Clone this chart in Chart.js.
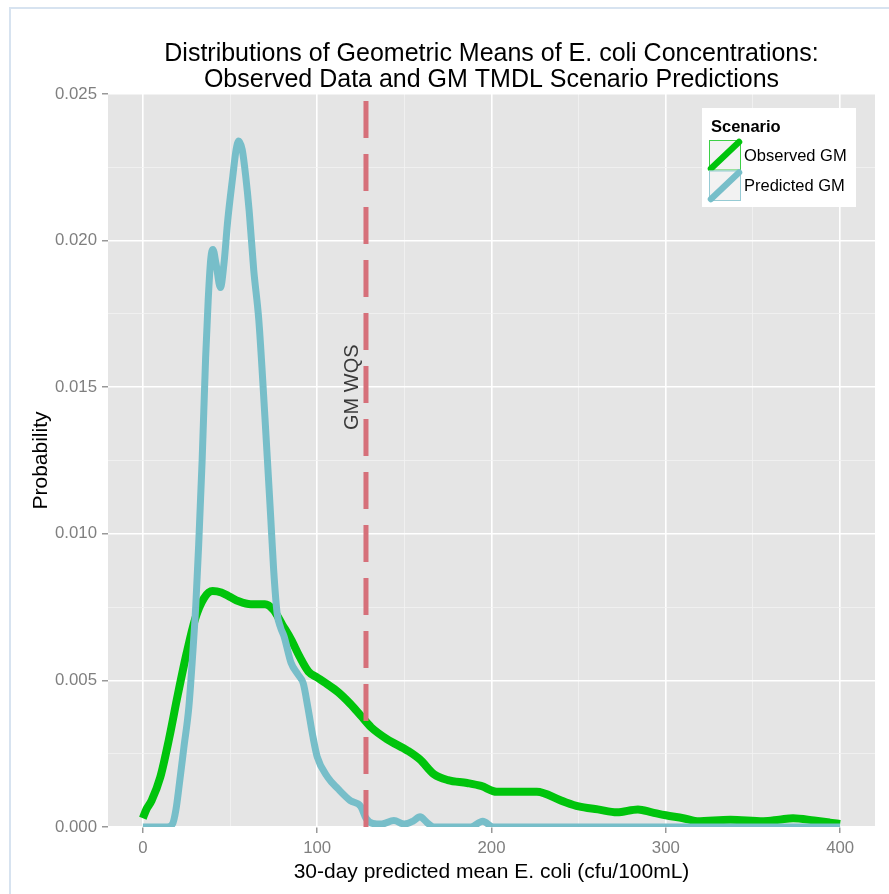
<!DOCTYPE html>
<html>
<head>
<meta charset="utf-8">
<title>Distributions of Geometric Means of E. coli Concentrations</title>
<script src="https://cdn.jsdelivr.net/npm/chart.js@4.4.1/dist/chart.umd.min.js"></script>
<style>
  html, body { margin: 0; padding: 0; background: #ffffff; }
  canvas { display: block; }
</style>
</head>
<body>
<canvas id="chart" width="889" height="894"></canvas>
<script>
// Density of observed 30-day geometric means (cfu/100mL -> probability)
const observedX = [0, 2, 5, 10, 15, 20, 25, 30, 35, 40, 45, 50, 55, 62, 70, 75, 80, 85, 90, 95,
  100, 105, 112, 119, 125, 131, 140, 152, 159, 167, 175, 186, 194, 203, 213, 226, 240, 250, 261, 272,
  284, 292, 300, 310, 318, 337, 356, 365, 373, 385, 394, 400];
const observedY = [0.0003, 0.0006, 0.0009, 0.0017, 0.0030, 0.0045, 0.0059, 0.0071, 0.0078, 0.00805,
  0.0080, 0.00785, 0.0077, 0.0076, 0.0076, 0.0074, 0.0069, 0.0064, 0.0058, 0.0053,
  0.0051, 0.0049, 0.0046, 0.0042, 0.0038, 0.0034, 0.0030, 0.0026, 0.0023, 0.0018,
  0.0016, 0.0015, 0.0014, 0.0012, 0.0012, 0.0012, 0.0009, 0.0007, 0.0006, 0.0005,
  0.0006, 0.0005, 0.0004, 0.0003, 0.0002, 0.00025, 0.0002, 0.00025, 0.0003, 0.00022, 0.00015, 0.0001];

// Density of GM TMDL scenario predictions
const predictedX = [0, 14, 17, 19, 21, 23.5, 26.4, 28.6, 30.4, 32, 34, 36, 37.5, 39, 40.2, 42, 44.5, 46.5,
  48.7, 51.6, 53.5, 55, 57, 59, 61, 63.6, 66.5, 70, 73.4, 75, 77, 79, 81, 85, 89, 92, 94.6, 97.5,
  100, 106, 112, 119, 125, 128, 132, 137, 144, 150, 155, 159, 163, 167, 188, 195, 201, 400];
const predictedY = [0, 0, 0.0001, 0.0006, 0.0015, 0.0027, 0.0041, 0.0059, 0.0076, 0.0096, 0.0125, 0.0160,
  0.0180, 0.0194, 0.0197, 0.0192, 0.0184, 0.0192, 0.0207, 0.0222, 0.0231, 0.0234, 0.0231, 0.0222,
  0.0210, 0.0190, 0.0173, 0.0140, 0.0105, 0.0088, 0.0073, 0.0068, 0.0065, 0.0056, 0.0052, 0.0049,
  0.0041, 0.0031, 0.0024, 0.0017, 0.0013, 0.0009, 0.0007, 0.0003, 0.00012, 0.0001, 0.00022, 0.0001,
  0.0002, 0.00035, 0.00015, 0, 0, 0.0002, 0, 0];

const seriesNames = ['Observed GM', 'Predicted GM'];
const seriesColors = ['#00C40C', '#77BEC9'];
const legendTitle = 'Scenario';

// Water quality standard for the geometric mean
const wqsValue = 128;
const wqsLabel = 'GM WQS';
const wqsLabelAt = { x: 120, y: 0.015 };

const xTickValues = [0, 50, 100, 150, 200, 250, 300, 350, 400];
const xTickLabels = ['0', '', '100', '', '200', '', '300', '', '400'];
const yTickValues = [0, 0.0025, 0.005, 0.0075, 0.01, 0.0125, 0.015, 0.0175, 0.02, 0.0225, 0.025];
const yTickLabels = ['0.000', '', '0.005', '', '0.010', '', '0.015', '', '0.020', '', '0.025'];

const titleLines = ['Distributions of Geometric Means of E. coli Concentrations:',
  'Observed Data and GM TMDL Scenario Predictions'];
const xTitle = '30-day predicted mean E. coli (cfu/100mL)';
const yTitle = 'Probability';

const FONT = '"Liberation Sans", Arial, Helvetica, sans-serif';
const toPoints = (xs, ys) => xs.map((x, i) => ({ x: x, y: ys[i] }));
const isMajor = (labels, i) => labels[i] !== undefined && labels[i] !== '';

// Page frame and grey panel behind the grid
const backdrop = {
  id: 'backdrop',
  beforeDraw(chart) {
    const { ctx, chartArea: a, width, height } = chart;
    ctx.save();
    ctx.fillStyle = '#ffffff';
    ctx.fillRect(0, 0, width, height);
    ctx.strokeStyle = '#d7e3f0';
    ctx.lineWidth = 2;
    ctx.beginPath();
    ctx.moveTo(10, height);
    ctx.lineTo(10, 8);
    ctx.lineTo(width, 8);
    ctx.stroke();
    ctx.fillStyle = '#E5E5E5';
    ctx.fillRect(a.left, a.top, a.right - a.left, a.bottom - a.top);
    ctx.restore();
  }
};

// Two-line heading centred over the panel
const heading = {
  id: 'heading',
  afterDraw(chart) {
    const { ctx, chartArea: a } = chart;
    ctx.save();
    ctx.font = '25px ' + FONT;
    ctx.fillStyle = '#000000';
    ctx.textAlign = 'center';
    ctx.textBaseline = 'middle';
    const cx = (a.left + a.right) / 2;
    ctx.fillText(titleLines[0], cx, a.top - 40);
    ctx.fillText(titleLines[1], cx, a.top - 14);
    ctx.restore();
  }
};

// Vertical label beside the standard line
const wqsText = {
  id: 'wqsText',
  afterDatasetsDraw(chart) {
    const { ctx, scales } = chart;
    const px = scales.x.getPixelForValue(wqsLabelAt.x);
    const py = scales.y.getPixelForValue(wqsLabelAt.y);
    ctx.save();
    ctx.translate(px, py);
    ctx.rotate(-Math.PI / 2);
    ctx.font = '20px ' + FONT;
    ctx.fillStyle = '#3a3a3a';
    ctx.textAlign = 'center';
    ctx.textBaseline = 'middle';
    ctx.fillText(wqsLabel, 0, 0);
    ctx.restore();
  }
};

// Legend box with diagonal line keys
const scenarioLegend = {
  id: 'scenarioLegend',
  afterDraw(chart) {
    const { ctx, chartArea: a } = chart;
    const left = a.right - 173, top = a.top + 14, w = 154, h = 99;
    ctx.save();
    ctx.fillStyle = '#ffffff';
    ctx.fillRect(left, top, w, h);
    ctx.fillStyle = '#000000';
    ctx.textBaseline = 'middle';
    ctx.textAlign = 'left';
    ctx.font = 'bold 16.5px ' + FONT;
    ctx.fillText(legendTitle, left + 9, top + 19);
    const keyL = left + 7, keyW = 32, keyH = 30.5;
    seriesNames.forEach((name, i) => {
      const ky = top + 32 + i * keyH;
      ctx.fillStyle = '#F2F2F2';
      ctx.fillRect(keyL, ky, keyW, keyH);
      ctx.globalAlpha = 0.75;
      ctx.strokeStyle = seriesColors[i];
      ctx.lineWidth = 1;
      ctx.strokeRect(keyL + 0.5, ky + 0.5, keyW - 1, keyH - 1);
      ctx.globalAlpha = 1;
      ctx.strokeStyle = seriesColors[i];
      ctx.lineWidth = 6.5;
      ctx.lineCap = 'round';
      ctx.beginPath();
      ctx.moveTo(keyL + 2, ky + keyH - 2);
      ctx.lineTo(keyL + keyW - 2, ky + 2);
      ctx.stroke();
      ctx.fillStyle = '#000000';
      ctx.font = '16.5px ' + FONT;
      ctx.fillText(name, keyL + 35, ky + keyH / 2 + 1);
    });
    ctx.restore();
  }
};

const gridWidth = (labels) => (c) => isMajor(labels, c.index) ? 1.6 : 0.8;
const gridColor = (labels) => (c) => isMajor(labels, c.index) ? '#ffffff' : '#F2F2F2';
const tickColor = (labels) => (c) => isMajor(labels, c.index) ? '#7f7f7f' : 'rgba(0,0,0,0)';

new Chart(document.getElementById('chart'), {
  type: 'line',
  data: {
    datasets: [
      {
        label: wqsLabel,
        data: [{ x: wqsValue, y: 0 }, { x: wqsValue, y: 0.025 }],
        borderColor: '#D6707A',
        borderWidth: 5,
        borderDash: [37, 16],
        borderCapStyle: 'butt',
        pointRadius: 0,
        order: 1
      },
      {
        label: seriesNames[1],
        data: toPoints(predictedX, predictedY),
        borderColor: seriesColors[1],
        borderWidth: 7,
        cubicInterpolationMode: 'monotone',
        borderJoinStyle: 'round',
        pointRadius: 0,
        order: 2
      },
      {
        label: seriesNames[0],
        data: toPoints(observedX, observedY),
        borderColor: seriesColors[0],
        borderWidth: 8,
        cubicInterpolationMode: 'monotone',
        borderJoinStyle: 'round',
        pointRadius: 0,
        order: 3
      }
    ]
  },
  options: {
    responsive: false,
    animation: false,
    devicePixelRatio: 1,
    layout: { padding: { top: 94, right: 14, bottom: 0, left: 0 } },
    plugins: {
      legend: { display: false },
      tooltip: { enabled: false },
      title: { display: false }
    },
    scales: {
      x: {
        type: 'linear',
        min: -20,
        max: 420,
        afterBuildTicks: (s) => { s.ticks = xTickValues.map(v => ({ value: v })); },
        afterFit: (s) => { s.height = 67; },
        border: { display: false },
        grid: {
          color: gridColor(xTickLabels),
          lineWidth: gridWidth(xTickLabels),
          tickColor: tickColor(xTickLabels),
          tickWidth: 1.2,
          tickLength: 6
        },
        ticks: {
          autoSkip: false,
          maxRotation: 0,
          padding: 5,
          color: '#7f7f7f',
          font: { family: FONT, size: 16.8 },
          callback: (v, i) => xTickLabels[i]
        },
        title: {
          display: true,
          text: xTitle,
          color: '#000000',
          font: { family: FONT, size: 21 },
          padding: { top: 0, bottom: 9 }
        }
      },
      y: {
        type: 'linear',
        min: 0,
        max: 0.025,
        afterBuildTicks: (s) => { s.ticks = yTickValues.map(v => ({ value: v })); },
        afterFit: (s) => { s.width = 108; },
        border: { display: false },
        grid: {
          color: gridColor(yTickLabels),
          lineWidth: gridWidth(yTickLabels),
          tickColor: tickColor(yTickLabels),
          tickWidth: 1.2,
          tickLength: 6
        },
        ticks: {
          autoSkip: false,
          padding: 5,
          color: '#7f7f7f',
          font: { family: FONT, size: 16.8 },
          callback: (v, i) => yTickLabels[i]
        },
        title: {
          display: true,
          text: yTitle,
          color: '#000000',
          font: { family: FONT, size: 21 },
          padding: { top: 29, bottom: 0 }
        }
      }
    }
  },
  plugins: [backdrop, heading, wqsText, scenarioLegend]
});
</script>
</body>
</html>
